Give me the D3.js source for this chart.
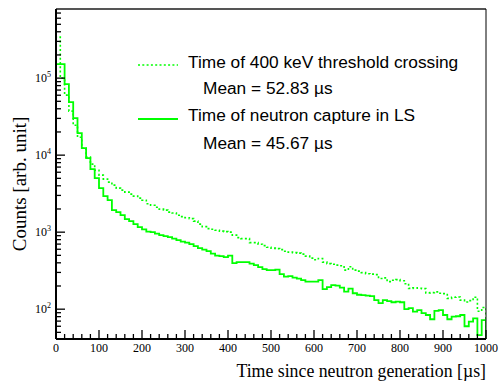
<!DOCTYPE html>
<html>
<head>
<meta charset="utf-8">
<script src="https://cdn.jsdelivr.net/npm/d3@7"></script>
<style>
body{margin:0;background:#fff;}
</style>
</head>
<body>
<script>
var w = 499, h = 383;
var margin = {left:56, top:9, right:13, bottom:44};

// bins of 10 us, 0..1000
var binWidth = 10;
var captureCounts = [152000,152000,83600,48800,30300,19300,12300,9140,6580,5020,
  3730,2940,2600,1930,1820,1660,1480,1390,1270,1160,
  1090,1015,1000,957,914,887,861,824,787,753,
  731,698,658,620,593,566,526,495,488,473,
  495,396,408,408,408,390,373,351,331,321,
  321,326,285,264,268,257,249,238,228,228,
  228,238,182,193,205,202,190,169,185,161,
  154,152,150,148,131,120,131,127,123,125,
  123,100,103,93,97,89,84,74,95,97,
  84,74,80,81,84,60,69,76,46,72];
var thresholdCounts = [341000,100000,60100,37300,24500,17100,12300,9420,7640,6380,
  5500,4880,4460,4080,3730,3510,3310,3120,2940,2770,
  2600,2340,2240,2110,1990,1930,1820,1770,1660,1590,
  1540,1500,1390,1270,1180,1110,1090,1060,1030,1015,
  1000,914,849,824,824,731,731,698,668,638,
  620,611,593,566,550,542,534,518,488,460,
  439,455,408,390,384,373,367,321,356,321,
  312,298,289,285,281,250,255,228,238,242,
  234,214,186,189,187,185,163,164,168,161,
  159,138,143,144,131,124,129,143,94,105];
var xTicks = [0,100,200,300,400,500,600,700,800,900,1000];
var yDecades = [2,3,4,5];
var legendLabels = ["Time of 400 keV threshold crossing","Mean = 52.83 \u00b5s",
  "Time of neutron capture in LS","Mean = 45.67 \u00b5s"];

var iw = w - margin.left - margin.right;
var ih = h - margin.top - margin.bottom;

var svg = d3.select("body").append("svg")
  .attr("width", w).attr("height", h);

var x = d3.scaleLinear().domain([0,1000]).range([0, iw]);
var y = d3.scaleLog().domain([41, 790000]).range([ih, 0]);

var g = svg.append("g").attr("transform","translate("+margin.left+","+margin.top+")");

g.append("clipPath").attr("id","clip")
  .append("rect").attr("width", iw).attr("height", ih);

function histPoints(arr){
  var pts = [[0, y.domain()[0]]];
  arr.forEach(function(v,i){ pts.push([i*binWidth, v]); });
  pts.push([arr.length*binWidth, arr[arr.length-1]]);
  pts.push([arr.length*binWidth, y.domain()[0]]);
  return pts;
}
var line = d3.line()
  .x(function(d){return x(d[0]);})
  .y(function(d){return y(d[1]);})
  .curve(d3.curveStepAfter);

var plot = g.append("g").attr("clip-path","url(#clip)");
plot.append("path").datum(histPoints(thresholdCounts))
  .attr("d", line).attr("fill","none")
  .attr("stroke","#00ff00").attr("stroke-width",1.6)
  .attr("stroke-dasharray","2,2.3");
plot.append("path").datum(histPoints(captureCounts))
  .attr("d", line).attr("fill","none")
  .attr("stroke","#00ff00").attr("stroke-width",1.8);

// frame
g.append("line").attr("x1",0).attr("x2",iw).attr("y1",0).attr("y2",0)
  .attr("stroke","#555").attr("stroke-width",2);
g.append("line").attr("x1",iw).attr("x2",iw).attr("y1",0).attr("y2",ih)
  .attr("stroke","#000").attr("stroke-width",1);

// x axis
var xMinor = d3.range(0,1001,20);
var xa = g.append("g").attr("transform","translate(0,"+ih+")");
xa.selectAll("line.t").data(xMinor).enter().append("line")
  .attr("x1", function(d){return x(d);}).attr("x2", function(d){return x(d);})
  .attr("y1",0).attr("y2", function(d){return d%100===0 ? -9 : -5;})
  .attr("stroke","#000").attr("stroke-width",1.3);
xa.append("line").attr("x1",0).attr("x2",iw).attr("y1",0).attr("y2",0)
  .attr("stroke","#000").attr("stroke-width",2);
xa.selectAll("text").data(xTicks).enter().append("text")
  .attr("x", function(d){return x(d);}).attr("y",13)
  .attr("text-anchor","middle")
  .style("font-family","'Liberation Serif', 'Times New Roman', serif")
  .style("font-size","12px").text(function(d){return d;});

// y axis
var yMinor = [];
[1,2,3,4,5].forEach(function(e){
  for(var k=1;k<10;k++){
    var v = k*Math.pow(10,e);
    if(v>=y.domain()[0] && v<=y.domain()[1]) yMinor.push({v:v, major:k===1});
  }
});
var ya = g.append("g");
ya.selectAll("line.t").data(yMinor).enter().append("line")
  .attr("y1", function(d){return y(d.v);}).attr("y2", function(d){return y(d.v);})
  .attr("x1",0).attr("x2", function(d){return d.major ? 9 : 5;})
  .attr("stroke","#000").attr("stroke-width",1.3);
ya.append("line").attr("x1",0).attr("x2",0).attr("y1",0).attr("y2",ih)
  .attr("stroke","#000").attr("stroke-width",2);
var yl = ya.selectAll("text").data(yDecades).enter().append("text")
  .attr("x",-5).attr("y", function(d){return y(Math.pow(10,d))+4;})
  .attr("text-anchor","end")
  .style("font-family","'Liberation Serif', 'Times New Roman', serif")
  .style("font-size","12px");
yl.append("tspan").text("10");
yl.append("tspan").attr("dy",-5).style("font-size","8px").text(function(d){return d;});

// titles
svg.append("text").attr("x", margin.left+iw).attr("y", 377)
  .attr("text-anchor","end")
  .style("font-family","'Liberation Serif', 'Times New Roman', serif")
  .style("font-size","17.8px")
  .text("Time since neutron generation [\u00b5s]");
svg.append("text")
  .attr("transform","translate(26,184) rotate(-90)")
  .attr("text-anchor","middle")
  .style("font-family","'Liberation Serif', 'Times New Roman', serif")
  .style("font-size","19px")
  .text("Counts [arb. unit]");

// legend
var lg = svg.append("g");
var legRows = [
  {ty:68, label:legendLabels[0], tx:188, dash:"2,2.3", sample:65},
  {ty:94, label:legendLabels[1], tx:203},
  {ty:121, label:legendLabels[2], tx:188, dash:null, sample:119},
  {ty:149, label:legendLabels[3], tx:203}
];
legRows.forEach(function(r){
  if(r.sample){
    lg.append("line").attr("x1",138).attr("x2",178)
      .attr("y1",r.sample).attr("y2",r.sample)
      .attr("stroke","#00ff00").attr("stroke-width",r.dash?1.6:1.8)
      .attr("stroke-dasharray", r.dash);
  }
  lg.append("text").attr("x",r.tx).attr("y",r.ty)
    .style("font-family","'Liberation Sans', Arial, sans-serif")
    .style("font-size","17.3px").attr("fill","#000")
    .text(r.label);
});
</script>
</body>
</html>
